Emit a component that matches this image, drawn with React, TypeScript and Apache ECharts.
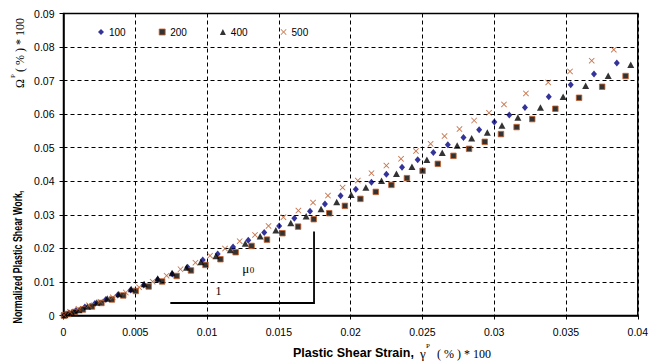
import React, { useEffect, useRef } from "react";
import * as echarts from "echarts";

// ---- axis ranges / ticks ----
const xMin = 0;
const xMax = 0.04;
const xStep = 0.005;
const yMin = 0;
const yMax = 0.09;
const yStep = 0.01;

// ---- legend names ----
const seriesNames = ["100", "200", "400", "500"];

// ---- data: [plastic shear strain, normalized plastic shear work] ----
const s100: [number, number][] = [
  [0.00003, 0.00006], [0.00038, 0.00075], [0.00087, 0.00149], [0.00149, 0.00254], [0.00219, 0.00358],
  [0.00295, 0.00477], [0.00378, 0.00612], [0.00468, 0.00761], [0.00559, 0.0091], [0.00656, 0.01074],
  [0.00758, 0.01238], [0.00864, 0.01438], [0.0097, 0.01656], [0.01074, 0.01835], [0.01181, 0.02044],
  [0.01287, 0.02243], [0.01398, 0.0247], [0.01502, 0.0267], [0.01608, 0.029], [0.01717, 0.03109],
  [0.01821, 0.03326], [0.0193, 0.03565], [0.02036, 0.03765], [0.02145, 0.03974], [0.02249, 0.04212],
  [0.02358, 0.04421], [0.02467, 0.04639], [0.02576, 0.04857], [0.02677, 0.05087], [0.02786, 0.05304],
  [0.02895, 0.05534], [0.03001, 0.05764], [0.03105, 0.05973], [0.03214, 0.06199], [0.0338, 0.06519],
  [0.03533, 0.06877], [0.03695, 0.07196], [0.03854, 0.07524],
];

const s200: [number, number][] = [
  [0.00003, 0.0], [0.00031, 0.00045], [0.0008, 0.00104], [0.00135, 0.00179], [0.00198, 0.00268],
  [0.00264, 0.00373], [0.00337, 0.00477], [0.00416, 0.00597], [0.00503, 0.00731], [0.00593, 0.00865],
  [0.00687, 0.01014], [0.00788, 0.01178], [0.00888, 0.01342], [0.00989, 0.01507], [0.01093, 0.01677],
  [0.01199, 0.01885], [0.0131, 0.02073], [0.01417, 0.02261], [0.01525, 0.02452], [0.01634, 0.02649],
  [0.01743, 0.0287], [0.01851, 0.03049], [0.0196, 0.03267], [0.02068, 0.03476], [0.02175, 0.03684],
  [0.02284, 0.03893], [0.02392, 0.04093], [0.02501, 0.04311], [0.02607, 0.0452], [0.02716, 0.04758],
  [0.02825, 0.04967], [0.02934, 0.05176], [0.03047, 0.05406], [0.03156, 0.05615], [0.03265, 0.05853],
  [0.03426, 0.06161], [0.03591, 0.06489], [0.03752, 0.06817], [0.03915, 0.07136],
];

const s400: [number, number][] = [
  [0.0001, 0.00015], [0.00056, 0.00089], [0.00108, 0.00164], [0.00167, 0.00268], [0.00232, 0.00388],
  [0.00305, 0.00507], [0.00385, 0.00641], [0.00472, 0.00791], [0.00562, 0.0094], [0.00656, 0.01104],
  [0.00756, 0.01268], [0.00857, 0.01432], [0.00957, 0.01596], [0.01062, 0.01775], [0.01162, 0.01954],
  [0.01266, 0.02148], [0.0137, 0.02363], [0.01479, 0.02542], [0.01583, 0.0276], [0.0169, 0.02959],
  [0.01794, 0.03177], [0.01903, 0.03386], [0.02004, 0.03595], [0.02106, 0.03813], [0.02215, 0.04013],
  [0.02319, 0.04221], [0.02427, 0.0443], [0.02531, 0.04639], [0.02638, 0.04848], [0.02742, 0.05066],
  [0.02843, 0.05286], [0.02952, 0.05453], [0.03054, 0.05662], [0.03165, 0.05901], [0.03322, 0.06199],
  [0.0348, 0.06519], [0.03637, 0.06847], [0.03794, 0.07145], [0.03951, 0.07473],
];

const s500: [number, number][] = [
  [0.00003, 0.00015], [0.00045, 0.0011], [0.00104, 0.002], [0.00177, 0.00304], [0.00257, 0.00412],
  [0.00343, 0.00543], [0.00434, 0.00686], [0.00527, 0.00841], [0.00621, 0.01008], [0.00718, 0.01187],
  [0.00815, 0.01378], [0.00919, 0.01575], [0.01021, 0.01784], [0.01125, 0.01993], [0.01227, 0.02214],
  [0.01334, 0.02402], [0.01428, 0.0267], [0.01532, 0.0293], [0.01636, 0.03126], [0.01738, 0.03365],
  [0.01842, 0.03574], [0.01944, 0.03813], [0.0205, 0.04021], [0.02145, 0.04242], [0.02249, 0.04469],
  [0.02351, 0.04669], [0.02455, 0.04899], [0.02557, 0.05116], [0.02654, 0.05346], [0.02758, 0.05555],
  [0.0286, 0.05811], [0.02964, 0.06041], [0.03068, 0.06289], [0.03221, 0.06617], [0.03376, 0.06945],
  [0.03528, 0.07273], [0.03679, 0.07593], [0.03833, 0.07921],
];

// slope triangle annotation (data coordinates)
const triX0 = 0.00744;
const triX1 = 0.01745;
const triY0 = 0.00373;
const triY1 = 0.025;
const muLabelPos: [number, number] = [0.01245, 0.01387];
const oneLabelPos: [number, number] = [0.01079, 0.0074];

const SANS = "'Liberation Sans', Arial, sans-serif";
const SERIF = "'Liberation Serif', 'Times New Roman', serif";
const CROSS = "path://M0,1 L1,0 L5,4 L9,0 L10,1 L6,5 L10,9 L9,10 L5,6 L1,10 L0,9 L4,5 Z";

export default function App() {
  const ref = useRef<HTMLDivElement>(null);
  useEffect(() => {
    document.body.style.margin = "0";
    const chart = echarts.init(ref.current!, null, { renderer: "svg" });
    const axisCommon = {
      axisLine: { show: true, lineStyle: { color: "#000", width: 1.5 } },
      axisTick: { show: true, inside: false, length: 4, lineStyle: { color: "#000", width: 1 } },
      splitLine: { show: true, lineStyle: { color: "#000", width: 1, type: [4, 3] } },
    };
    chart.setOption({
      animation: false,
      backgroundColor: "#fff",
      grid: {
        left: 63.5, right: 11, top: 13.5, bottom: 47.5,
        show: true, borderColor: "#000", borderWidth: 1.5, backgroundColor: "transparent",
      },
      legend: {
        data: [
          { name: seriesNames[0] },
          { name: seriesNames[1], itemStyle: { borderWidth: 1 } },
          { name: seriesNames[2] },
          { name: seriesNames[3] },
        ],
        left: 93,
        top: 22,
        itemWidth: 6,
        itemHeight: 6,
        itemGap: 33,
        selectedMode: false,
        textStyle: { fontSize: 10, fontFamily: SANS, color: "#000" },
      },
      xAxis: {
        type: "value", min: xMin, max: xMax, interval: xStep, ...axisCommon,
        axisLabel: { color: "#000", fontSize: 10.5, fontFamily: SANS, margin: 11 },
      },
      yAxis: {
        type: "value", min: yMin, max: yMax, interval: yStep, ...axisCommon,
        axisLabel: { color: "#000", fontSize: 10.5, fontFamily: SANS, margin: 9 },
      },
      series: [
        {
          name: seriesNames[0], type: "scatter", data: s100, symbol: "diamond", symbolSize: [6, 7],
          itemStyle: { color: "#000080" },
        },
        {
          name: seriesNames[1], type: "scatter", data: s200, symbol: "rect", symbolSize: 5.5,
          itemStyle: { color: "#000", borderColor: "#C8602A", borderWidth: 1 },
        },
        {
          name: seriesNames[2], type: "scatter", data: s400, symbol: "triangle", symbolSize: [7, 6.5],
          itemStyle: { color: "#000" },
        },
        {
          name: seriesNames[3], type: "scatter", data: s500, symbol: CROSS, symbolSize: 6,
          itemStyle: { color: "#B8501E" },
        },
      ],
    });

    const px = (pt: [number, number]) => chart.convertToPixel({ gridIndex: 0 }, pt) as number[];
    const a = px([triX0, triY0]);
    const b = px([triX1, triY0]);
    const c = px([triX1, triY1]);
    const mu = px(muLabelPos);
    const one = px(oneLabelPos);

    chart.setOption({
      graphic: [
        { type: "polyline", shape: { points: [a, b, c] }, style: { stroke: "#000", lineWidth: 1.8, fill: "none" }, silent: true },
        { type: "text", x: mu[0], y: mu[1], style: { text: "μ", font: `13px ${SERIF}`, fill: "#000", textAlign: "left", textVerticalAlign: "middle" } },
        { type: "text", x: mu[0] + 7.5, y: mu[1] + 1.5, style: { text: "0", font: `9px ${SERIF}`, fill: "#000", textAlign: "left", textVerticalAlign: "middle" } },
        { type: "text", x: one[0], y: one[1], style: { text: "1", font: `12px ${SERIF}`, fill: "#000", textAlign: "center", textVerticalAlign: "middle" } },
        // x axis name
        { type: "text", x: 293, y: 353, style: { text: "Plastic Shear Strain,", font: `bold 12.5px ${SANS}`, fill: "#000", textAlign: "left", textVerticalAlign: "middle" } },
        { type: "text", x: 420, y: 353, style: { text: "γ", font: `13px ${SERIF}`, fill: "#000", textAlign: "left", textVerticalAlign: "middle" } },
        { type: "text", x: 426, y: 346, style: { text: "P", font: `7px ${SERIF}`, fill: "#000", textAlign: "left", textVerticalAlign: "middle" } },
        { type: "text", x: 437, y: 354, style: { text: "( % ) * 100", font: `12px ${SERIF}`, fill: "#000", textAlign: "left", textVerticalAlign: "middle" } },
        // y axis name (rotated)
        { type: "text", x: 17, y: 257, rotation: Math.PI / 2, scaleX: 0.74, style: { text: "Normalized Plastic Shear Work,", font: `bold 12px ${SANS}`, fill: "#000", textAlign: "center", textVerticalAlign: "middle" } },
        { type: "text", x: 20, y: 88, rotation: Math.PI / 2, style: { text: "Ω", font: `12px ${SERIF}`, fill: "#000", textAlign: "left", textVerticalAlign: "middle" } },
        { type: "text", x: 13, y: 78, rotation: Math.PI / 2, style: { text: "P", font: `7px ${SERIF}`, fill: "#000", textAlign: "left", textVerticalAlign: "middle" } },
        { type: "text", x: 20, y: 72, rotation: Math.PI / 2, style: { text: "( % ) * 100", font: `12px ${SERIF}`, fill: "#000", textAlign: "left", textVerticalAlign: "middle" } },
      ],
    });
    return () => chart.dispose();
  }, []);
  return <div ref={ref} style={{ position: "absolute", left: 0, top: 0, width: 651, height: 363 }} />;
}
